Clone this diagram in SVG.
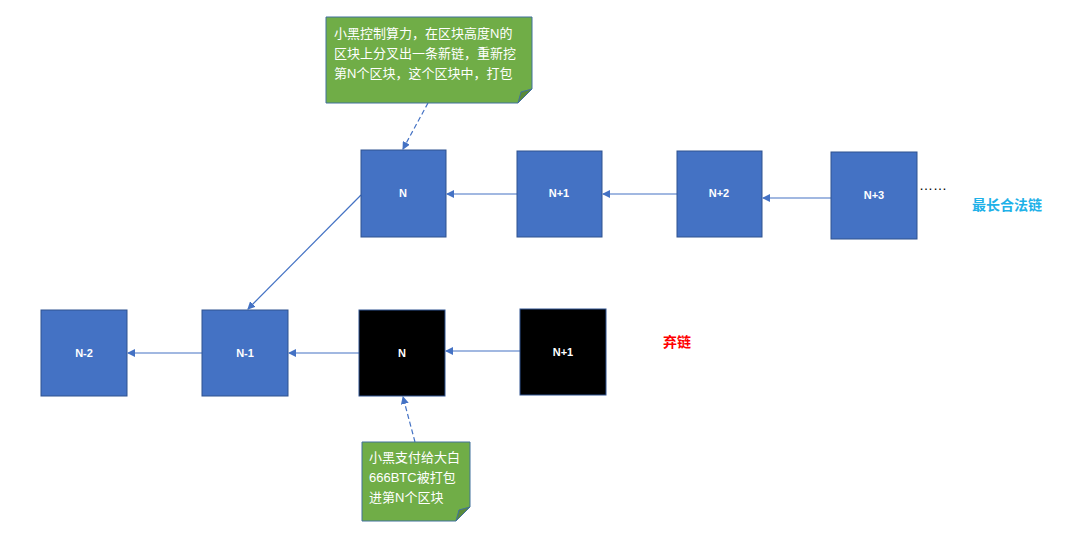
<svg xmlns="http://www.w3.org/2000/svg" width="1080" height="545" viewBox="0 0 1080 545">
<defs>
<style>
text{font-family:"Liberation Sans","Noto Sans CJK SC",sans-serif;}
.b{fill:#4472c4;stroke:#2f528f;stroke-width:1}
.k{fill:#000;stroke:#2f528f;stroke-width:1}
.lbl{fill:#fff;font-size:11px;font-weight:bold;text-anchor:middle}
.c{stroke:#4472c4;stroke-width:1.2;fill:none;marker-end:url(#a)}
.d{stroke:#4472c4;stroke-width:1.2;fill:none;stroke-dasharray:5,3;marker-end:url(#a)}
.note{fill:#70ad47;stroke:#41719c;stroke-width:1}
.fold{fill:#5a8a39;stroke:#41719c;stroke-width:1}
.nt{fill:#fff;font-size:13px}
</style>
<marker id="a" markerWidth="8" markerHeight="8" refX="7" refY="4" orient="auto" markerUnits="userSpaceOnUse"><path d="M0,0L8,4L0,8z" fill="#4472c4"/></marker>
</defs>
<rect width="1080" height="545" fill="#fff"/>
<g id="connectors">
<line class="c" x1="517" y1="194" x2="447" y2="194"/>
<line class="c" x1="677" y1="194" x2="603" y2="194"/>
<line class="c" x1="831" y1="198" x2="763" y2="198"/>
<line class="c" x1="361" y1="195" x2="248" y2="309"/>
<line class="c" x1="520" y1="351" x2="446" y2="351"/>
<line class="c" x1="359" y1="353" x2="289" y2="353"/>
<line class="c" x1="202" y1="353" x2="128" y2="353"/>
<line class="d" x1="428" y1="103" x2="403" y2="149"/>
<line class="d" x1="415" y1="442" x2="403" y2="397"/>
</g>
<g id="nN"><rect class="b" x="361" y="150" width="85" height="87"/><text class="lbl" x="403" y="197">N</text></g>
<g id="nN1"><rect class="b" x="517" y="151" width="85" height="86"/><text class="lbl" x="559" y="197">N+1</text></g>
<g id="nN2"><rect class="b" x="677" y="151" width="85" height="86"/><text class="lbl" x="719" y="197">N+2</text></g>
<g id="nN3"><rect class="b" x="831" y="152" width="86" height="87"/><text class="lbl" x="874" y="199">N+3</text></g>
<text x="919" y="190" font-size="14" fill="#000">……</text>
<text x="972" y="210" font-size="14" font-weight="bold" fill="#1eb1e8">最长合法链</text>
<g id="nNm2"><rect class="b" x="41" y="310" width="86" height="86"/><text class="lbl" x="84" y="357">N-2</text></g>
<g id="nNm1"><rect class="b" x="202" y="310" width="86" height="86"/><text class="lbl" x="245" y="357">N-1</text></g>
<g id="bN"><rect class="k" x="359" y="310" width="86" height="86"/><text class="lbl" x="402" y="357">N</text></g>
<g id="bN1"><rect class="k" x="520" y="309" width="86" height="86"/><text class="lbl" x="563" y="356">N+1</text></g>
<text x="663" y="347" font-size="14" font-weight="bold" fill="#ff0000">弃链</text>
<g id="note1">
<path class="note" d="M326,17H532V89L518,103H326Z"/>
<path class="fold" d="M532,89L518,103L521,92Z"/>
<text class="nt" x="334" y="38">小黑控制算力，在区块高度N的</text>
<text class="nt" x="334" y="58">区块上分叉出一条新链，重新挖</text>
<text class="nt" x="334" y="78">第N个区块，这个区块中，打包</text>
</g>
<g id="note2">
<path class="note" d="M362,442H470V507L456,521H362Z"/>
<path class="fold" d="M470,507L456,521L459,510Z"/>
<text class="nt" x="369" y="462">小黑支付给大白</text>
<text class="nt" x="369" y="482">666BTC被打包</text>
<text class="nt" x="369" y="502">进第N个区块</text>
</g>
</svg>
